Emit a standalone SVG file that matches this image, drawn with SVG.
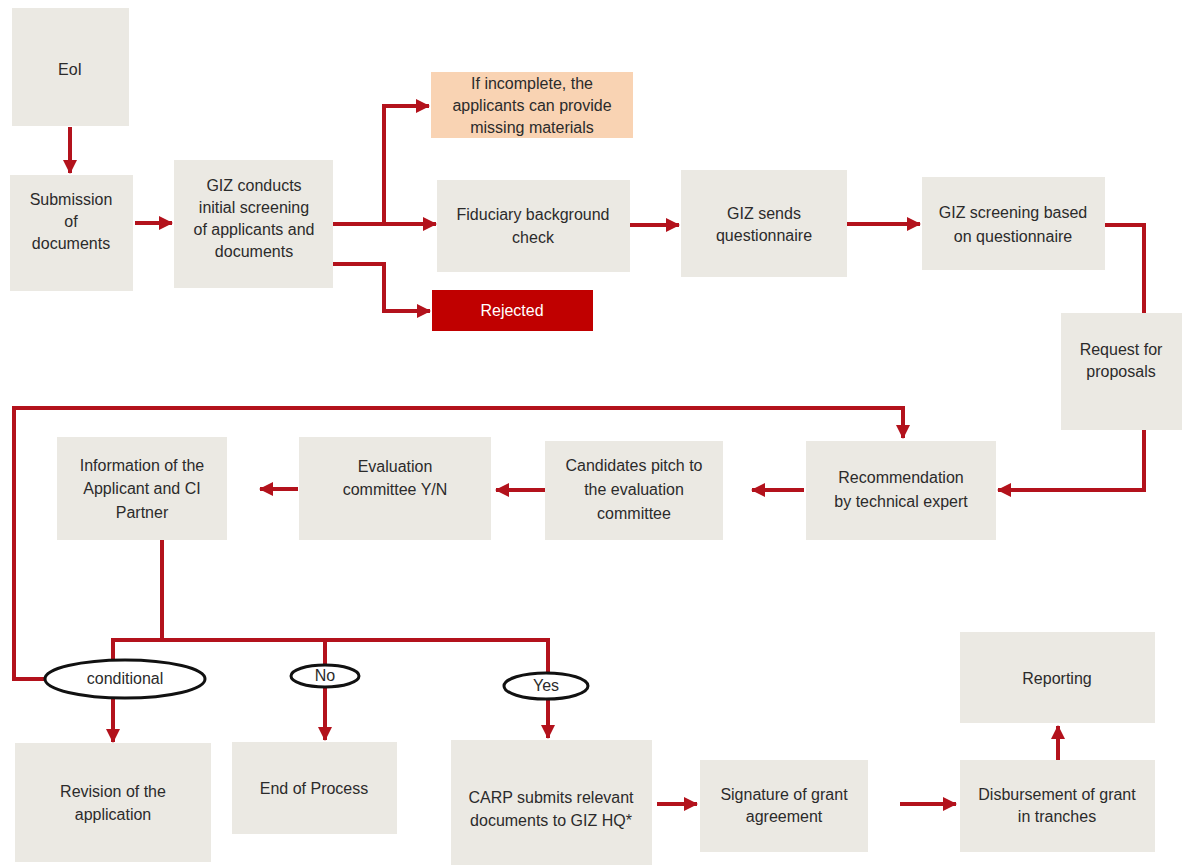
<svg xmlns="http://www.w3.org/2000/svg" width="1182" height="865" viewBox="0 0 1182 865">
<defs>
<marker id="ah" markerUnits="userSpaceOnUse" markerWidth="14" markerHeight="14" viewBox="0 0 14 14" refX="13" refY="7" orient="auto">
<path d="M0,0 L14,7 L0,14 z" fill="#b3121c"/>
</marker>
<style>
.box{fill:#ebe9e3}
.t{font-family:"Liberation Sans",Arial,sans-serif;font-size:16px;fill:#2b2b2b;text-anchor:middle}
.w{fill:#fff}
.c{fill:none;stroke:#b3121c;stroke-width:4}
.a{marker-end:url(#ah)}
.el{fill:#fff;stroke:#111;stroke-width:3}
</style>
</defs>
<rect width="1182" height="865" fill="#fff"/>
<g id="connectors">
<path class="c a" d="M70,127 V173"/>
<path class="c a" d="M135,223 H172"/>
<path class="c" d="M333,224 H384 V106"/>
<path class="c a" d="M382,106 H429"/>
<path class="c a" d="M382,224 H436"/>
<path class="c a" d="M333,264 H384 V311 H430"/>
<path class="c a" d="M630,225 H679"/>
<path class="c a" d="M847,224 H920"/>
<path class="c" d="M1105,225 H1144 V313"/>
<path class="c a" d="M1144,430 V490 H998"/>
<path class="c a" d="M804,490 H752"/>
<path class="c a" d="M545,490 H496"/>
<path class="c a" d="M298,489 H260"/>
<path class="c" d="M162,540 V640"/>
<path class="c" d="M113,660 V640 H548 V673"/>
<path class="c" d="M325,640 V665"/>
<path class="c a" d="M46,679 H14 V408 H903 V438"/>
<path class="c a" d="M113,698 V742"/>
<path class="c a" d="M325,688 V740"/>
<path class="c a" d="M548,699 V738"/>
<path class="c a" d="M657,804 H697"/>
<path class="c a" d="M900,804 H956"/>
<path class="c a" d="M1058,760 V726"/>
</g>
<g id="eoi"><rect class="box" x="12" y="8" width="117" height="118"/><text class="t" x="70" y="75">EoI</text></g>
<g id="submission"><rect class="box" x="10" y="175" width="123" height="116"/><text class="t" x="71" y="205">Submission</text><text class="t" x="71" y="227">of</text><text class="t" x="71" y="249">documents</text></g>
<g id="screening"><rect class="box" x="174" y="160" width="159" height="128"/><text class="t" x="254" y="191">GIZ conducts</text><text class="t" x="254" y="213">initial screening</text><text class="t" x="254" y="235">of applicants and</text><text class="t" x="254" y="257">documents</text></g>
<g id="incomplete"><rect x="431" y="72" width="202" height="66" fill="#f9d3b3"/><text class="t" x="532" y="89">If incomplete, the</text><text class="t" x="532" y="111">applicants can provide</text><text class="t" x="532" y="133">missing materials</text></g>
<g id="fiduciary"><rect class="box" x="437" y="180" width="193" height="92"/><text class="t" x="533" y="220">Fiduciary background</text><text class="t" x="533" y="243">check</text></g>
<g id="rejected"><rect x="432" y="290" width="161" height="41" fill="#c00000"/><text class="t w" x="512" y="316">Rejected</text></g>
<g id="sends"><rect class="box" x="681" y="170" width="166" height="107"/><text class="t" x="764" y="219">GIZ sends</text><text class="t" x="764" y="241">questionnaire</text></g>
<g id="screening-q"><rect class="box" x="922" y="177" width="183" height="93"/><text class="t" x="1013" y="218">GIZ screening based</text><text class="t" x="1013" y="242">on questionnaire</text></g>
<g id="request"><rect class="box" x="1061" y="313" width="121" height="117"/><text class="t" x="1121" y="355">Request for</text><text class="t" x="1121" y="377">proposals</text></g>
<g id="recommendation"><rect class="box" x="806" y="441" width="190" height="99"/><text class="t" x="901" y="483">Recommendation</text><text class="t" x="901" y="507">by technical expert</text></g>
<g id="pitch"><rect class="box" x="545" y="441" width="178" height="99"/><text class="t" x="634" y="471">Candidates pitch to</text><text class="t" x="634" y="495">the evaluation</text><text class="t" x="634" y="519">committee</text></g>
<g id="evaluation"><rect class="box" x="299" y="437" width="192" height="103"/><text class="t" x="395" y="472">Evaluation</text><text class="t" x="395" y="495">committee Y/N</text></g>
<g id="information"><rect class="box" x="57" y="437" width="170" height="103"/><text class="t" x="142" y="471">Information of the</text><text class="t" x="142" y="494">Applicant and CI</text><text class="t" x="142" y="518">Partner</text></g>
<g id="conditional"><ellipse class="el" cx="125" cy="679" rx="80" ry="19"/><text class="t" x="125" y="684">conditional</text></g>
<g id="no"><ellipse class="el" cx="325" cy="676" rx="34" ry="11"/><text class="t" x="325" y="681">No</text></g>
<g id="yes"><ellipse class="el" cx="546" cy="686" rx="42" ry="13"/><text class="t" x="546" y="691">Yes</text></g>
<g id="revision"><rect class="box" x="15" y="743" width="196" height="119"/><text class="t" x="113" y="797">Revision of the</text><text class="t" x="113" y="820">application</text></g>
<g id="end"><rect class="box" x="232" y="742" width="165" height="92"/><text class="t" x="314" y="794">End of Process</text></g>
<g id="carp"><rect class="box" x="451" y="740" width="201" height="125"/><text class="t" x="551" y="803">CARP submits relevant</text><text class="t" x="551" y="826">documents to GIZ HQ*</text></g>
<g id="signature"><rect class="box" x="700" y="760" width="168" height="92"/><text class="t" x="784" y="800">Signature of grant</text><text class="t" x="784" y="822">agreement</text></g>
<g id="disbursement"><rect class="box" x="960" y="760" width="195" height="92"/><text class="t" x="1057" y="800">Disbursement of grant</text><text class="t" x="1057" y="822">in tranches</text></g>
<g id="reporting"><rect class="box" x="960" y="632" width="195" height="91"/><text class="t" x="1057" y="684">Reporting</text></g>
</svg>
